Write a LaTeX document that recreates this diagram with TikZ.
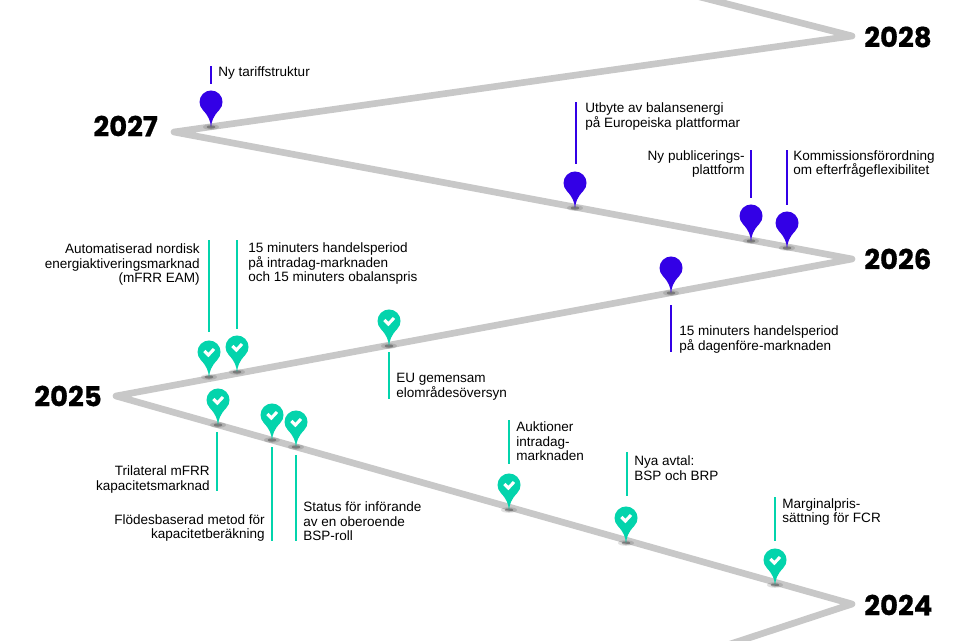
\documentclass[tikz,border=0pt]{standalone}
\usepackage{fontspec}
\setmainfont{Liberation Sans}
\newfontfamily\yearfont{Poppins Bold}[FakeBold=0.6]
\definecolor{teal1}{HTML}{03D4AC}
\definecolor{blue1}{HTML}{3300E6}
\definecolor{road}{HTML}{C8C8C8}
\tikzset{
  x=0.75pt,y=-0.75pt,
  road/.style={draw=road,line width=5pt,line join=round,line cap=round},
  year/.style={inner sep=0,font=\yearfont\fontsize{20.7}{20.7}\selectfont,text=black},
  lab/.style={inner sep=0,font=\fontsize{10.15}{10.9}\selectfont,text=black,yshift=-1.2pt},
  labl/.style={lab,anchor=west,align=left},
  labr/.style={lab,anchor=east,align=right},
  stemt/.style={draw=teal1,line width=1.1pt},
  stemb/.style={draw=blue1,line width=1.1pt},
}
\newcommand{\pinshape}[4]{% x, y tip, colour, check
  \fill[black,opacity=.12] (#1,#2) ellipse [x radius=8,y radius=2.8];
  \fill[black,opacity=.3] (#1,#2) ellipse [x radius=4.5,y radius=1.7];
  \begin{scope}[shift={(#1,#2)}]
    \fill[#3] (0,0) .. controls (-0.8,-6) and (-2,-10.5) .. (-8.1,-16.9)
      arc [start angle=135,end angle=405,radius=11.5]
      .. controls (2,-10.5) and (0.8,-6) .. (0,0) -- cycle;
    #4
  \end{scope}}
\newcommand{\chk}{\draw[white,line width=2.3pt,line join=miter] (-4.6,-26) -- (-0.6,-22) -- (5,-28);}
\newcommand{\tpin}[2]{\pinshape{#1}{#2}{teal1}{\chk}}
\newcommand{\bpin}[2]{\pinshape{#1}{#2}{blue1}{}}
\begin{document}
\begin{tikzpicture}
\path[use as bounding box] (0,0) rectangle (960,640);
\clip (0,0) rectangle (960,640);
\fill[white] (0,0) rectangle (960,640);
\coordinate (v0) at (673,-10);
\coordinate (v28) at (852,36);
\coordinate (v27) at (174,132);
\coordinate (v26) at (852,259);
\coordinate (v25) at (116,396);
\coordinate (v24) at (852,604);
\coordinate (v1) at (700,654);
\draw[road] (v0) -- (v28) -- (v27) -- (v26) -- (v25) -- (v24) -- (v1);
\node[year,anchor=west] (y28) at (864,37) {2028};
\node[year,anchor=east] (y27) at (158,126) {2027};
\node[year,anchor=west] (y26) at (864,259) {2026};
\node[year,anchor=east] (y25) at (102,396) {2025};
\node[year,anchor=west] (y24) at (864,605) {2024};
% stems
\draw[stemb] (211,66) -- (211,84);
\draw[stemb] (576,102) -- (576,164);
\draw[stemb] (751,150) -- (751,198);
\draw[stemb] (787,150) -- (787,205);
\draw[stemb] (671,305) -- (671,352);
\draw[stemt] (209,240) -- (209,332);
\draw[stemt] (237,240) -- (237,329);
\draw[stemt] (389,352) -- (389,399);
\draw[stemt] (217,432) -- (217,491);
\draw[stemt] (272,447) -- (272,541);
\draw[stemt] (296,455) -- (296,541);
\draw[stemt] (509,420) -- (509,464);
\draw[stemt] (627,452) -- (627,496);
\draw[stemt] (775,497) -- (775,541);
% pins
\bpin{211}{127}\bpin{575}{208}\bpin{751}{241}\bpin{787}{248}\bpin{671}{293}
\tpin{209}{377}\tpin{237}{372}\tpin{389}{346}\tpin{218}{425}\tpin{272}{440}\tpin{296}{447}
\tpin{509}{510}\tpin{626}{543}\tpin{775}{585}
% labels
\node[labl] (a) at (218,71) {Ny tariffstruktur};
\node[labl] (b) at (585,115) {Utbyte av balansenergi\\på Europeiska plattformar};
\node[labr] (c) at (745,162.5) {Ny publicerings-\\plattform};
\node[labl] (d) at (793,162.5) {Kommissionsförordning\\om efterfrågeflexibilitet};
\node[labl] (e) at (679,338) {15 minuters handelsperiod\\på dagenföre-marknaden};
\node[labr] (f) at (200,263) {Automatiserad nordisk\\energiaktiveringsmarknad\\(mFRR EAM)};
\node[labl] (g) at (248,262) {15 minuters handelsperiod\\på intradag-marknaden\\och 15 minuters obalanspris};
\node[labl] (h) at (396,385) {EU gemensam\\elområdesöversyn};
\node[labr] (i) at (210,478) {Trilateral mFRR\\kapacitetsmarknad};
\node[labr] (j) at (265,526.5) {Flödesbaserad metod för\\kapacitetberäkning};
\node[labl] (k) at (303,520) {Status för införande\\av en oberoende\\BSP-roll};
\node[labl] (l) at (516,440) {Auktioner\\intradag-\\marknaden};
\node[labl] (m) at (634,466.5) {Nya avtal:\\BSP och BRP};
\node[labl] (n) at (782,510.5) {Marginalpris-\\sättning för FCR};
\end{tikzpicture}
\end{document}
